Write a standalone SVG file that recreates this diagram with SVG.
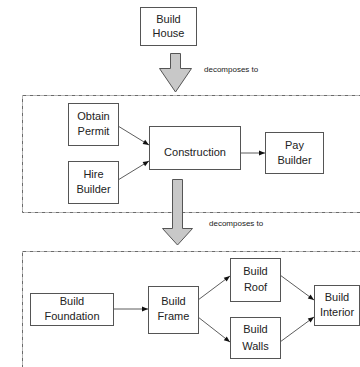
<svg xmlns="http://www.w3.org/2000/svg" width="360" height="367" viewBox="0 0 360 367">
<defs>
<style>
.box{fill:#fff;stroke:#555;stroke-width:1}
.t{font-family:"Liberation Sans",Arial,sans-serif;font-size:11px;fill:#222;text-anchor:middle}
.s{font-family:"Liberation Sans",Arial,sans-serif;font-size:8px;fill:#222}
.c{stroke:#333;stroke-width:0.8;fill:none;marker-end:url(#ah)}
.frame{fill:none;stroke:#444;stroke-width:0.8;stroke-dasharray:4 1 1 1}
.big{fill:#c8c8c8;stroke:#555;stroke-width:1}
</style>
<marker id="ah" viewBox="0 0 10 10" refX="10" refY="5" markerWidth="8" markerHeight="6" orient="auto" markerUnits="userSpaceOnUse">
<path d="M0,1 L10,5 L0,9 z" fill="#111"/>
</marker>
</defs>
<rect class="frame" x="22.5" y="95.5" width="345" height="117"/>
<rect class="frame" x="22.5" y="251.5" width="345" height="130"/>
<g id="decomp1">
<path class="big" d="M170.5,53.5 H180.5 V68.5 H191.5 L175.5,92 L159.5,68.5 H170.5 Z"/>
<text class="s" x="204" y="72">decomposes to</text>
</g>
<g id="decomp2">
<path class="big" d="M172.5,179.5 H182.5 V228.5 H192.5 L177.5,245 L162.5,228.5 H172.5 Z"/>
<text class="s" x="209" y="226">decomposes to</text>
</g>
<g id="connectors">
<line class="c" x1="118" y1="126" x2="149" y2="145"/>
<line class="c" x1="118" y1="180" x2="149" y2="161"/>
<line class="c" x1="240" y1="153" x2="265" y2="153"/>
<line class="c" x1="113" y1="309" x2="148" y2="309"/>
<line class="c" x1="198" y1="300" x2="230" y2="276"/>
<line class="c" x1="198" y1="317" x2="230" y2="342"/>
<line class="c" x1="280" y1="275" x2="314" y2="300"/>
<line class="c" x1="280" y1="342" x2="314" y2="317"/>
</g>
<g id="buildHouse"><rect class="box" x="140.5" y="7.5" width="56" height="38"/><text class="t" x="168.5" y="23">Build</text><text class="t" x="168.5" y="37">House</text></g>
<g id="obtainPermit"><rect class="box" x="68.5" y="103.5" width="50" height="42"/><text class="t" x="93.5" y="120">Obtain</text><text class="t" x="93.5" y="135">Permit</text></g>
<g id="hireBuilder"><rect class="box" x="68.5" y="161.5" width="50" height="42"/><text class="t" x="93.5" y="178">Hire</text><text class="t" x="93.5" y="193">Builder</text></g>
<g id="construction"><rect class="box" x="149.5" y="126.5" width="91" height="43"/><text class="t" x="195" y="156">Construction</text></g>
<g id="payBuilder"><rect class="box" x="265.5" y="132.5" width="58" height="41"/><text class="t" x="294.5" y="149">Pay</text><text class="t" x="294.5" y="164">Builder</text></g>
<g id="buildFoundation"><rect class="box" x="30.5" y="293.5" width="83" height="32"/><text class="t" x="72" y="305">Build</text><text class="t" x="72" y="320">Foundation</text></g>
<g id="buildFrame"><rect class="box" x="148.5" y="286.5" width="50" height="47"/><text class="t" x="173.5" y="305">Build</text><text class="t" x="173.5" y="320">Frame</text></g>
<g id="buildRoof"><rect class="box" x="230.5" y="258.5" width="50" height="43"/><text class="t" x="255.5" y="275">Build</text><text class="t" x="255.5" y="291">Roof</text></g>
<g id="buildWalls"><rect class="box" x="230.5" y="317.5" width="50" height="41"/><text class="t" x="255.5" y="333">Build</text><text class="t" x="255.5" y="350">Walls</text></g>
<g id="buildInterior"><rect class="box" x="314.5" y="285.5" width="45" height="40"/><text class="t" x="337" y="301">Build</text><text class="t" x="337" y="316">Interior</text></g>
</svg>
